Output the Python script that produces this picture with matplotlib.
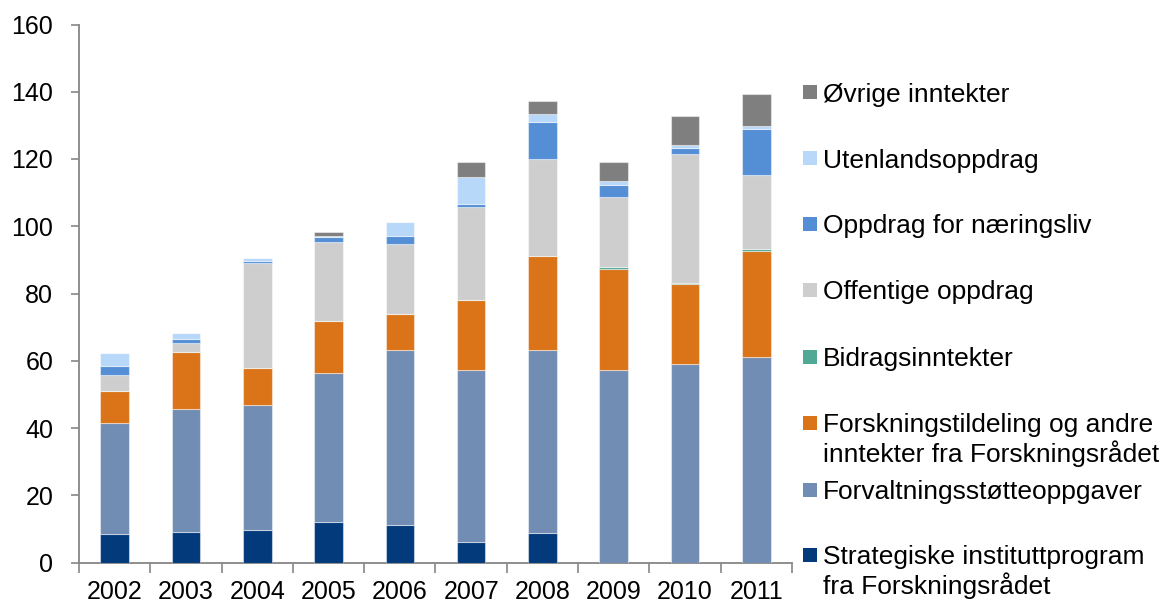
import matplotlib
matplotlib.use("Agg")
import matplotlib.pyplot as plt
import numpy as np
from matplotlib.patches import Rectangle

plt.rcParams['font.family'] = ['Liberation Sans', 'DejaVu Sans']

years = ["2002", "2003", "2004", "2005", "2006", "2007", "2008", "2009", "2010", "2011"]

strategiske = [8.4, 9.1, 9.8, 12.1, 11.2, 6.2, 8.8, 0.0, 0.0, 0.0]
forvaltning = [33.0, 36.5, 37.0, 44.2, 52.1, 51.0, 54.4, 57.2, 58.9, 61.0]
forskningstildeling = [9.5, 17.1, 10.9, 15.6, 10.7, 20.8, 28.0, 30.1, 23.8, 31.6]
bidrag = [0.0, 0.0, 0.0, 0.0, 0.0, 0.0, 0.0, 0.5, 0.5, 0.7]
offentlige = [4.9, 2.5, 31.5, 23.4, 20.7, 27.8, 28.9, 20.8, 38.4, 21.9]
naeringsliv = [2.7, 1.4, 0.6, 1.6, 2.5, 0.8, 11.0, 3.8, 1.8, 13.8]
utenland = [3.8, 1.8, 0.7, 0.3, 4.1, 8.0, 2.3, 1.2, 0.8, 0.8]
ovrige = [0.0, 0.0, 0.0, 1.0, 0.0, 4.6, 3.8, 5.5, 8.5, 9.6]

labels = [
    "Strategiske instituttprogram\nfra Forskningsrådet",
    "Forvaltningsstøtteoppgaver",
    "Forskningstildeling og andre\ninntekter fra Forskningsrådet",
    "Bidragsinntekter",
    "Offentige oppdrag",
    "Oppdrag for næringsliv",
    "Utenlandsoppdrag",
    "Øvrige inntekter",
]
series = [strategiske, forvaltning, forskningstildeling, bidrag,
          offentlige, naeringsliv, utenland, ovrige]
colors = ["#023A7B", "#728DB3", "#DB7318", "#4FA995",
          "#CDCECD", "#548FD5", "#B8D8FA", "#7F7F7F"]

fig = plt.figure(figsize=(11.65, 6.05), dpi=100)
L, R, B, T = 79.0, 792.0, 562.5, 24.5
ax = fig.add_axes([L / 1165, 1 - B / 605, (R - L) / 1165, (B - T) / 605])

x = np.arange(len(years))
bottom = np.zeros(len(years))
for vals, col in zip(series, colors):
    v = np.array(vals)
    ax.bar(x, v, width=0.40, bottom=bottom, color=col,
           edgecolor=(1, 1, 1, 0.45), linewidth=0.8, zorder=3)
    bottom += v

ax.set_xlim(-0.5, len(years) - 0.5)
ax.set_ylim(0, 160)
ax.set_yticks(np.arange(0, 161, 20))
ax.set_xticks(x)
ax.set_xticklabels(years)
ax.set_xticks(np.arange(-0.5, len(years), 1.0), minor=True)
ax.tick_params(axis='x', which='major', length=0, pad=12.5, labelsize=18)
ax.tick_params(axis='x', which='minor', length=7, width=1.2, color='#868686', direction='out')
ax.tick_params(axis='y', length=5.5, width=1.2, color='#868686', direction='out', pad=13, labelsize=18)
for s in ['top', 'right']:
    ax.spines[s].set_visible(False)
for s in ['left', 'bottom']:
    ax.spines[s].set_color('#868686')
    ax.spines[s].set_linewidth(1.3)

# legend (top-down: reversed order)
sq = 14
fs = 19
cap_half = 0.358 * fs * 100 / 72
ys = [92.3, 158.3, 224.0, 290.0, 356.7, 422.7, 490.0, 555.0]
for yc, lab, col in zip(ys, labels[::-1], colors[::-1]):
    fig.patches.append(Rectangle((803 / 1165, 1 - (yc + sq / 2) / 605), sq / 1165, sq / 605,
                                 transform=fig.transFigure, facecolor=col, edgecolor='none'))
    lines = lab.split("\n")
    for i, line in enumerate(lines):
        fig.text(823 / 1165, 1 - (yc + cap_half + 30 * i) / 605, line,
                 fontsize=fs, va='baseline', ha='left')

fig.savefig("out.png", dpi=100)
